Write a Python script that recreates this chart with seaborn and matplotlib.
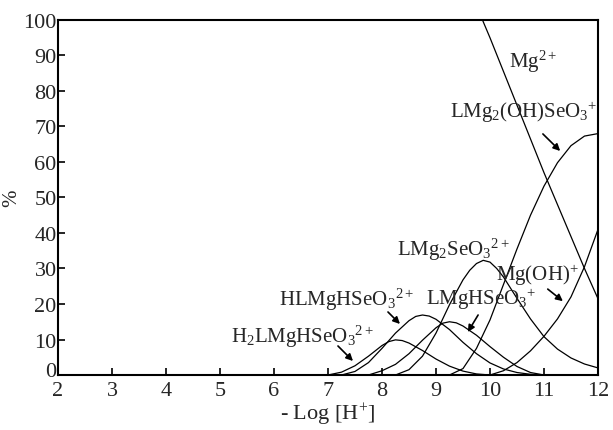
import pandas as pd
import matplotlib
matplotlib.use("Agg")
import matplotlib.pyplot as plt
import matplotlib.transforms as mtransforms
import seaborn as sns

# Species distribution (% vs -log[H+])
ph_h2l = [7.0, 7.25, 7.5, 7.75, 8.0, 8.125, 8.25, 8.375, 8.5, 8.75, 9.0, 9.25, 9.5, 9.75, 10.0]
pct_h2l = [0.0, 0.8, 2.6, 5.3, 8.3, 9.4, 9.9, 9.7, 9.0, 6.9, 4.5, 2.5, 1.1, 0.3, 0.0]

ph_hl = [7.25, 7.5, 7.75, 8.0, 8.25, 8.5, 8.625, 8.75, 8.875, 9.0, 9.25, 9.5, 9.75,
         10.0, 10.25, 10.5, 10.75, 11.0]
pct_hl = [0.0, 1.0, 3.5, 7.5, 11.8, 15.3, 16.5, 16.9, 16.6, 15.7, 12.8, 9.2, 6.0,
          3.4, 1.7, 0.7, 0.2, 0.0]

ph_lmgh = [7.75, 8.0, 8.25, 8.5, 8.75, 9.0, 9.125, 9.25, 9.375, 9.5, 9.75, 10.0,
           10.25, 10.5, 10.75, 11.0]
pct_lmgh = [0.0, 1.2, 3.0, 6.0, 9.8, 13.3, 14.6, 15.0, 14.7, 13.8, 11.2, 8.0,
            5.0, 2.4, 0.7, 0.0]

ph_lmg2 = [8.25, 8.5, 8.75, 9.0, 9.25, 9.5, 9.625, 9.75, 9.875, 10.0, 10.125, 10.25,
           10.5, 10.75, 11.0, 11.25, 11.5, 11.75, 12.0]
pct_lmg2 = [0.0, 1.5, 5.3, 11.8, 19.8, 26.8, 29.5, 31.4, 32.3, 31.8, 30.0, 27.6,
            21.6, 15.8, 10.8, 7.3, 4.8, 3.1, 2.0]

ph_lmg2oh = [9.25, 9.5, 9.75, 10.0, 10.25, 10.5, 10.75, 11.0, 11.25, 11.5, 11.75, 12.0]
pct_lmg2oh = [0.0, 1.8, 7.5, 15.5, 25.5, 35.5, 45.0, 53.2, 59.8, 64.6, 67.3, 68.0]

ph_mgoh = [10.0, 10.25, 10.5, 10.75, 11.0, 11.25, 11.5, 11.75, 12.0]
pct_mgoh = [0.0, 1.2, 3.5, 6.8, 10.9, 15.8, 22.0, 30.5, 41.0]

ph_mg = [9.75, 10.0, 10.25, 10.5, 10.75, 11.0, 11.25, 11.5, 11.75, 12.0]
pct_mg = [104.0, 95.0, 85.5, 76.0, 66.5, 57.0, 48.0, 39.0, 30.0, 21.5]

series = {
    "H2L": (ph_h2l, pct_h2l),
    "HL": (ph_hl, pct_hl),
    "LMgH": (ph_lmgh, pct_lmgh),
    "LMg2": (ph_lmg2, pct_lmg2),
    "LMg2OH": (ph_lmg2oh, pct_lmg2oh),
    "MgOH": (ph_mgoh, pct_mgoh),
    "Mg": (ph_mg, pct_mg),
}

x_ticks = list(range(2, 13))
y_ticks = list(range(0, 101, 10))


def main():
    frames = []
    for name, (xs, ys) in series.items():
        frames.append(pd.DataFrame({"pH": xs, "pct": ys, "species": name}))
    df = pd.concat(frames, ignore_index=True)

    sns.set_style("ticks", {"xtick.direction": "in", "ytick.direction": "in"})
    plt.rcParams["font.family"] = ["Liberation Serif", "DejaVu Serif"]
    plt.rcParams["mathtext.fontset"] = "custom"
    plt.rcParams["mathtext.rm"] = "Liberation Serif"
    plt.rcParams["mathtext.it"] = "Liberation Serif:italic"

    fig, ax = plt.subplots(figsize=(6.13, 4.31), dpi=100)
    fig.subplots_adjust(left=0.0946, right=0.9755, bottom=0.1276, top=0.9513)

    sns.lineplot(ax=ax, data=df, x="pH", y="pct", hue="species",
                 palette=["black"] * len(series), estimator=None, sort=True,
                 legend=False, linewidth=0.9)

    ax.set_xlim(2, 12)
    ax.set_ylim(0, 100)
    ax.set_xticks(x_ticks)
    ax.set_yticks(y_ticks)
    ax.tick_params(labelsize=16, length=5, width=1.2, color="black")
    ax.tick_params(axis="x", pad=4)
    ax.tick_params(axis="y", pad=1)
    for side in ["top", "right", "bottom", "left"]:
        ax.spines[side].set_visible(True)
        ax.spines[side].set_linewidth(1.5)
        ax.spines[side].set_color("black")

    # nudge the "0" label up a little, as in the original
    fig.canvas.draw()
    lbl0 = ax.get_yticklabels()[0]
    lbl0.set_transform(lbl0.get_transform() +
                       mtransforms.ScaledTranslation(0, 4 / 72, fig.dpi_scale_trans))

    ax.set_xlabel("- Log [H$^{+}$]", fontsize=16)
    ax.set_ylabel("%", fontsize=15)
    ax.xaxis.set_label_coords(0.5, -0.072)
    ax.yaxis.set_label_coords(-0.068, 0.5)

    # species labels
    fs = 15
    ax.text(10.80, 88.5, r"$\mathrm{Mg^{2+}}$", fontsize=fs, ha="center", va="center")
    ax.text(10.63, 74.1, r"$\mathrm{LMg_2(OH)SeO_3{}^{+}}$", fontsize=fs, ha="center", va="center")
    ax.text(9.33, 35.5, r"$\mathrm{LMg_2SeO_3{}^{2+}}$", fontsize=fs, ha="center", va="center")
    ax.text(10.87, 28.3, r"$\mathrm{Mg(OH)^{+}}$", fontsize=fs, ha="center", va="center")
    ax.text(9.83, 21.6, r"$\mathrm{LMgHSeO_3{}^{+}}$", fontsize=fs, ha="center", va="center")
    ax.text(7.35, 21.4, r"$\mathrm{HLMgHSeO_3{}^{2+}}$", fontsize=fs, ha="center", va="center")
    ax.text(6.52, 11.0, r"$\mathrm{H_2LMgHSeO_3{}^{2+}}$", fontsize=fs, ha="center", va="center")

    # arrows pointing at curves
    arrows = [
        ((7.185, 8.17), (7.463, 3.94)),
        ((8.111, 17.75), (8.333, 14.37)),
        ((9.78, 16.9), (9.59, 12.1)),
        ((11.07, 24.2), (11.35, 20.8)),
        ((10.98, 67.9), (11.30, 63.1)),
    ]
    for start, end in arrows:
        ax.annotate("", xy=end, xytext=start,
                    arrowprops=dict(arrowstyle="-|>", color="black", lw=1.2,
                                    mutation_scale=10, shrinkA=0, shrinkB=0))

    fig.savefig("out.png", dpi=100)
    plt.close(fig)


if __name__ == "__main__":
    main()
